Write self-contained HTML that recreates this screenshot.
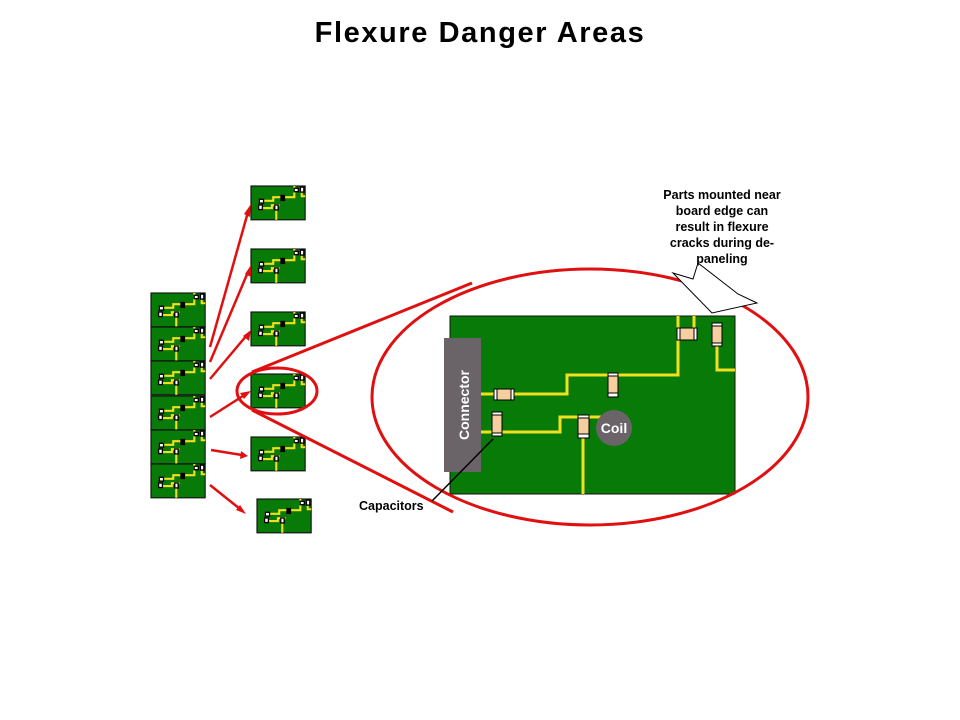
<!DOCTYPE html>
<html><head><meta charset="utf-8"><style>
body{margin:0;background:#fff;}
svg{display:block}
text{font-family:"Liberation Sans",Arial,sans-serif;font-weight:bold}
</style></head><body>
<svg width="960" height="720" viewBox="0 0 960 720" xmlns="http://www.w3.org/2000/svg">
<defs>
<g id="mini">
<rect x="0" y="0" width="285" height="178" fill="#087a08" stroke="#111" stroke-width="6"/>
<g fill="none" stroke="#f0e020" stroke-width="11">
<path d="M40 78 H117 V59 H228 V0"/>
<path d="M267 20 V54 H285"/>
<path d="M40 116 H110 V101 H150"/>
<path d="M133 116 V178"/>
</g>
<g fill="#fff" stroke="#000" stroke-width="7">
<rect x="44" y="70" width="22" height="20"/><rect x="40" y="100" width="20" height="24"/>
<rect x="125" y="100" width="18" height="26"/><rect x="158" y="50" width="18" height="26" fill="#000"/>
<rect x="227" y="12" width="22" height="18"/><rect x="260" y="6" width="18" height="26"/>
</g>
</g>
<g id="mb"><use href="#mini" transform="scale(0.19)"/></g>
</defs>

<text x="480" y="42" text-anchor="middle" font-size="29" letter-spacing="1.6">Flexure Danger Areas</text>

<use href="#mb" x="151" y="293"/>
<use href="#mb" x="151" y="327"/>
<use href="#mb" x="151" y="361"/>
<use href="#mb" x="151" y="396"/>
<use href="#mb" x="151" y="430"/>
<use href="#mb" x="151" y="464"/>

<use href="#mb" x="251" y="186"/>
<use href="#mb" x="251" y="249"/>
<use href="#mb" x="251" y="312"/>
<use href="#mb" x="251" y="374"/>
<use href="#mb" x="251" y="437"/>
<use href="#mb" x="257" y="499"/>

<g stroke="#e01010" stroke-width="2.5" fill="none">
<line x1="210" y1="347" x2="248" y2="212"/>
<line x1="210" y1="362" x2="248" y2="272"/>
<line x1="210" y1="379" x2="247" y2="335"/>
<line x1="210" y1="417" x2="246" y2="394"/>
<line x1="211" y1="450" x2="242" y2="455"/>
<line x1="210" y1="485" x2="240" y2="509"/>
</g>
<g fill="#e01010">
<polygon points="251,204 250,217 244,214"/>
<polygon points="251,265 251,277 245,274"/>
<polygon points="251,330 249,341 243,336"/>
<polygon points="251,391 244,399 240,393"/>
<polygon points="248,456 240,459 241,451"/>
<polygon points="246,514 236,510 240,505"/>
</g>

<rect x="450" y="316" width="285" height="178" fill="#087a08" stroke="#111" stroke-width="1"/>
<g fill="none" stroke="#f0e020" stroke-width="3">
<path d="M481 394 H567 V375 H678 V316"/>
<path d="M694 316 V330"/>
<path d="M717 340 V370 H735"/>
<path d="M481 432 H560 V417 H605"/>
<path d="M583 432 V494"/>
</g>
<g stroke="#000" stroke-width="1">
<rect x="494" y="389" width="20" height="11" fill="#f5cfa0"/>
<rect x="494" y="389" width="3" height="11" fill="#fff"/><rect x="511" y="389" width="3" height="11" fill="#fff"/>
<rect x="492" y="412" width="10" height="24" fill="#f5cfa0"/>
<rect x="492" y="412" width="10" height="3" fill="#fff"/><rect x="492" y="433" width="10" height="3" fill="#fff"/>
<rect x="578" y="415" width="11" height="23" fill="#f5cfa0"/>
<rect x="578" y="415" width="11" height="3" fill="#fff"/><rect x="578" y="434" width="11" height="4" fill="#fff"/>
<rect x="608" y="373" width="10" height="24" fill="#f5cfa0"/>
<rect x="608" y="373" width="10" height="3" fill="#fff"/><rect x="608" y="393" width="10" height="4" fill="#fff"/>
<rect x="677" y="328" width="20" height="12" fill="#f5cfa0"/>
<rect x="677" y="328" width="3" height="12" fill="#fff"/><rect x="694" y="328" width="3" height="12" fill="#fff"/>
<rect x="712" y="323" width="10" height="23" fill="#f5cfa0"/>
<rect x="712" y="323" width="10" height="3" fill="#fff"/><rect x="712" y="343" width="10" height="3" fill="#fff"/>
</g>
<circle cx="614" cy="428" r="18" fill="#6a6468"/>
<text x="614" y="433" text-anchor="middle" font-size="14" fill="#fff">Coil</text>
<rect x="444" y="338" width="37" height="134" fill="#6a6468"/>
<text transform="translate(469,405) rotate(-90)" text-anchor="middle" font-size="14" fill="#fff">Connector</text>

<g stroke="#e01010" stroke-width="3" fill="none">
<ellipse cx="277" cy="391" rx="40" ry="23"/>
<ellipse cx="590" cy="397" rx="218" ry="128"/>
<line x1="252" y1="372" x2="472" y2="283"/>
<line x1="252" y1="410" x2="453" y2="512"/>
</g>

<polygon points="673,273 693,279 698,263 738,294 757,303 712,313" fill="#fff" stroke="#000" stroke-width="1"/>
<g font-size="12.5" text-anchor="middle">
<text x="722" y="199">Parts mounted near</text>
<text x="722" y="215">board edge can</text>
<text x="722" y="231">result in flexure</text>
<text x="722" y="247">cracks during de-</text>
<text x="722" y="263">paneling</text>
</g>

<line x1="432" y1="501" x2="493" y2="439" stroke="#000" stroke-width="1.5"/>
<text x="359" y="510" font-size="12.5">Capacitors</text>
</svg>
</body></html>
